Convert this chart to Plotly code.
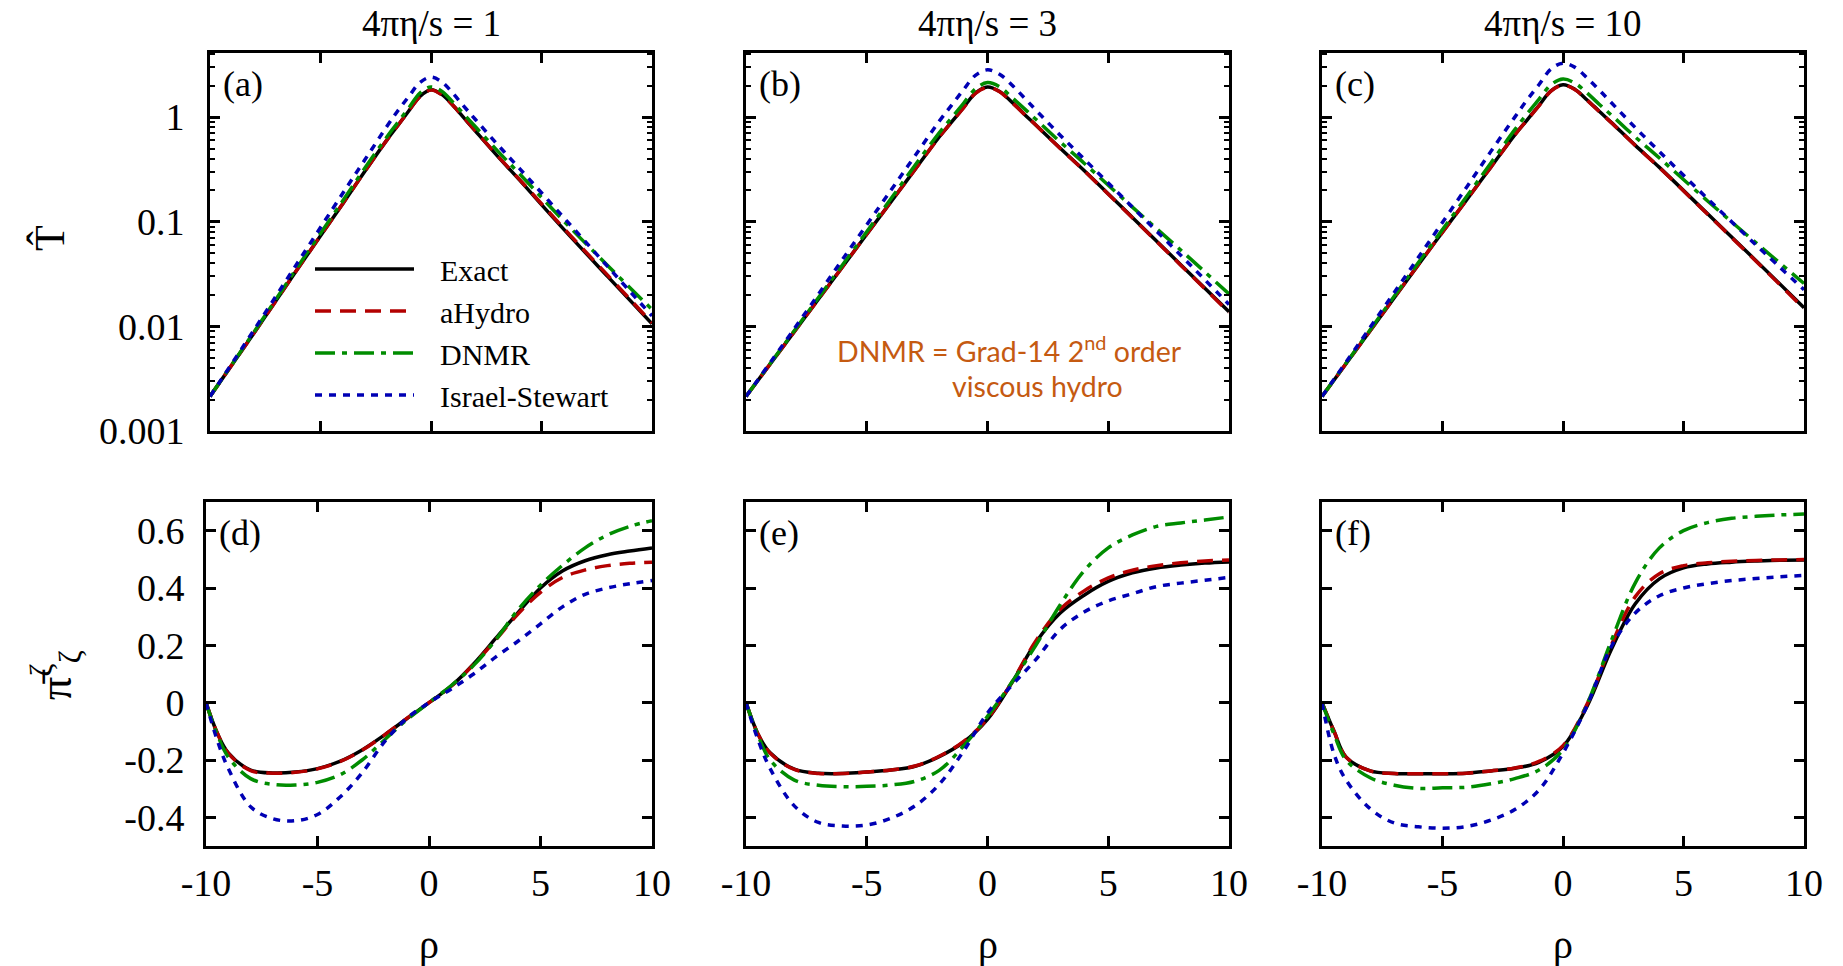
import plotly.graph_objects as go

# ---------------- data ----------------
rho_top = [-10, -8, -6, -4, -3, -2, -1.5, -1, -0.5, 0, 0.5, 1, 1.5, 2, 3, 4, 6, 8, 10]

# panel (a): 4*pi*eta/s = 1
T_exact_a = [0.00214, 0.0087, 0.0363, 0.148, 0.302, 0.603, 0.832, 1.15, 1.58, 1.83, 1.64, 1.29, 0.977, 0.741, 0.427, 0.251, 0.0851, 0.0299, 0.0106]
T_ahydro_a = [0.00214, 0.0087, 0.0363, 0.148, 0.302, 0.603, 0.832, 1.15, 1.57, 1.82, 1.63, 1.29, 0.98, 0.745, 0.43, 0.254, 0.087, 0.0307, 0.0108]
T_dnmr_a = [0.00214, 0.0089, 0.038, 0.158, 0.324, 0.646, 0.891, 1.23, 1.70, 1.94, 1.76, 1.38, 1.06, 0.813, 0.479, 0.288, 0.102, 0.038, 0.0145]
T_is_a = [0.00214, 0.0093, 0.0417, 0.186, 0.389, 0.813, 1.15, 1.58, 2.14, 2.41, 2.16, 1.68, 1.26, 0.955, 0.55, 0.324, 0.11, 0.0372, 0.0126]

# panel (b): 4*pi*eta/s = 3
T_exact_b = [0.00214, 0.0089, 0.0372, 0.155, 0.316, 0.646, 0.891, 1.23, 1.70, 1.94, 1.76, 1.40, 1.08, 0.841, 0.507, 0.309, 0.110, 0.0389, 0.0138]
T_ahydro_b = [0.00214, 0.0089, 0.0372, 0.155, 0.316, 0.646, 0.89, 1.22, 1.69, 1.92, 1.75, 1.39, 1.08, 0.84, 0.505, 0.308, 0.109, 0.0385, 0.0136]
T_dnmr_b = [0.00214, 0.0091, 0.0389, 0.166, 0.347, 0.708, 0.977, 1.35, 1.86, 2.14, 1.95, 1.55, 1.22, 0.955, 0.582, 0.363, 0.138, 0.0537, 0.0204]
T_is_b = [0.00214, 0.0095, 0.0437, 0.2, 0.427, 0.912, 1.29, 1.82, 2.51, 2.83, 2.57, 2.04, 1.55, 1.17, 0.676, 0.398, 0.138, 0.0479, 0.0162]

# panel (c): 4*pi*eta/s = 10
T_exact_c = [0.00214, 0.0091, 0.0389, 0.162, 0.331, 0.676, 0.933, 1.29, 1.78, 2.04, 1.84, 1.46, 1.14, 0.891, 0.537, 0.331, 0.119, 0.0427, 0.0151]
T_ahydro_c = [0.00214, 0.0091, 0.0389, 0.162, 0.331, 0.676, 0.93, 1.28, 1.77, 2.02, 1.83, 1.45, 1.13, 0.888, 0.535, 0.329, 0.118, 0.0421, 0.0148]
T_dnmr_c = [0.00214, 0.0093, 0.0407, 0.174, 0.363, 0.759, 1.07, 1.48, 2.04, 2.31, 2.11, 1.70, 1.33, 1.05, 0.646, 0.407, 0.158, 0.0631, 0.0257]
T_is_c = [0.00214, 0.0098, 0.0457, 0.214, 0.468, 1.0, 1.45, 2.04, 2.88, 3.28, 2.99, 2.37, 1.82, 1.38, 0.794, 0.468, 0.166, 0.0603, 0.0224]

rho_bot = [-10, -9.5, -9, -8, -7, -6, -5, -4, -3, -2, -1, 0, 1, 2, 3, 4, 5, 6, 7, 8, 9, 10]

# panel (d)
pi_exact_d = [0, -0.105, -0.175, -0.235, -0.245, -0.242, -0.23, -0.205, -0.165, -0.113, -0.056, 0, 0.058, 0.135, 0.225, 0.315, 0.40, 0.46, 0.495, 0.516, 0.529, 0.54]
pi_ahydro_d = [0, -0.105, -0.177, -0.237, -0.246, -0.243, -0.231, -0.206, -0.166, -0.113, -0.055, 0, 0.058, 0.133, 0.22, 0.31, 0.385, 0.437, 0.463, 0.478, 0.486, 0.49]
pi_dnmr_d = [0, -0.11, -0.19, -0.265, -0.285, -0.287, -0.278, -0.252, -0.2, -0.13, -0.06, 0, 0.06, 0.13, 0.22, 0.325, 0.41, 0.48, 0.54, 0.585, 0.615, 0.635]
pi_is_d = [0, -0.13, -0.23, -0.363, -0.405, -0.412, -0.39, -0.33, -0.245, -0.137, -0.055, 0.0, 0.048, 0.1, 0.16, 0.215, 0.275, 0.335, 0.378, 0.4, 0.415, 0.426]

# panel (e)
pi_exact_e = [0, -0.11, -0.175, -0.232, -0.246, -0.247, -0.242, -0.235, -0.222, -0.188, -0.138, -0.058, 0.068, 0.21, 0.312, 0.375, 0.423, 0.453, 0.47, 0.48, 0.487, 0.491]
pi_ahydro_e = [0, -0.11, -0.176, -0.233, -0.247, -0.247, -0.242, -0.235, -0.221, -0.187, -0.136, -0.056, 0.07, 0.215, 0.325, 0.39, 0.435, 0.462, 0.478, 0.488, 0.494, 0.498]
pi_dnmr_e = [0, -0.115, -0.2, -0.27, -0.288, -0.293, -0.292, -0.287, -0.274, -0.236, -0.152, -0.048, 0.07, 0.2, 0.34, 0.46, 0.54, 0.585, 0.615, 0.627, 0.637, 0.648]
pi_is_e = [0, -0.13, -0.23, -0.36, -0.418, -0.43, -0.427, -0.403, -0.36, -0.285, -0.17, -0.036, 0.06, 0.15, 0.255, 0.316, 0.355, 0.38, 0.405, 0.417, 0.427, 0.437]

# panel (f)
pi_exact_f = [0, -0.1, -0.19, -0.238, -0.247, -0.248, -0.248, -0.246, -0.238, -0.229, -0.208, -0.153, -0.012, 0.185, 0.345, 0.432, 0.47, 0.484, 0.49, 0.494, 0.497, 0.498]
pi_ahydro_f = [0, -0.1, -0.19, -0.238, -0.247, -0.248, -0.248, -0.246, -0.238, -0.228, -0.205, -0.15, -0.005, 0.2, 0.37, 0.45, 0.478, 0.488, 0.493, 0.496, 0.498, 0.499]
pi_dnmr_f = [0, -0.11, -0.2, -0.262, -0.288, -0.299, -0.297, -0.295, -0.283, -0.265, -0.235, -0.164, -0.005, 0.215, 0.418, 0.54, 0.6, 0.628, 0.643, 0.65, 0.655, 0.658]
pi_is_f = [0, -0.18, -0.27, -0.37, -0.42, -0.433, -0.438, -0.432, -0.41, -0.373, -0.305, -0.176, -0.01, 0.195, 0.313, 0.373, 0.4, 0.415, 0.426, 0.433, 0.439, 0.444]

model_names = ["Exact", "aHydro", "DNMR", "Israel-Stewart"]
column_titles = ["4πη/s = 1", "4πη/s = 3", "4πη/s = 10"]
panel_tags = ["(a)", "(b)", "(c)", "(d)", "(e)", "(f)"]
x_ticks = [-10, -5, 0, 5, 10]
x_ticktext = ["-10", "-5", "0", "5", "10"]
T_ticks = [0.001, 0.01, 0.1, 1]
T_ticktext = ["0.001", "0.01", "0.1", "1"]
pi_ticks = [-0.4, -0.2, 0, 0.2, 0.4, 0.6]
pi_ticktext = ["-0.4", "-0.2", "0", "0.2", "0.4", "0.6"]

top_sets = [
    [T_exact_a, T_ahydro_a, T_dnmr_a, T_is_a],
    [T_exact_b, T_ahydro_b, T_dnmr_b, T_is_b],
    [T_exact_c, T_ahydro_c, T_dnmr_c, T_is_c],
]
bot_sets = [
    [pi_exact_d, pi_ahydro_d, pi_dnmr_d, pi_is_d],
    [pi_exact_e, pi_ahydro_e, pi_dnmr_e, pi_is_e],
    [pi_exact_f, pi_ahydro_f, pi_dnmr_f, pi_is_f],
]

# ---------------- styles ----------------
SERIF = "Liberation Serif"
SANS = "Lato"
colors = ["#000000", "#b30000", "#008c00", "#0000b4"]
dashes = ["solid", "16px,9px", "20px,7px,5px,7px", "7px,7px"]
widths = [3.5, 3.5, 3.5, 3.5]

W, H = 1843, 966
def dom_x(a, b):
    return [a / W, b / W]
def dom_y(top, bottom):
    return [1 - bottom / H, 1 - top / H]

col_x_top = [(210, 652), (746, 1229), (1322, 1804)]
col_x_bot = [(206, 652), (746, 1229), (1322, 1804)]
row_top = (53, 431)
row_bot = (502, 846)

fig = go.Figure()

for c in range(3):
    xa = "x" if c == 0 else f"x{c+1}"
    ya = "y" if c == 0 else f"y{c+1}"
    for m in range(4):
        fig.add_trace(go.Scatter(
            x=rho_top, y=top_sets[c][m], xaxis=xa, yaxis=ya, mode="lines",
            line=dict(color=colors[m], dash=dashes[m], width=widths[m], shape="spline", smoothing=1.0),
            name="\u2002\u2009" + model_names[m], legendgroup=model_names[m], showlegend=(c == 0),
        ))
for c in range(3):
    xa = f"x{c+4}"
    ya = f"y{c+4}"
    for m in range(4):
        fig.add_trace(go.Scatter(
            x=rho_bot, y=bot_sets[c][m], xaxis=xa, yaxis=ya, mode="lines",
            line=dict(color=colors[m], dash=dashes[m], width=widths[m], shape="spline", smoothing=1.0),
            name=model_names[m], legendgroup=model_names[m], showlegend=False,
        ))

minor_log = [k * 10 ** e for e in range(-3, 1) for k in range(2, 10)] + [2, 3, 4]

axis_common = dict(
    showline=True, linewidth=3, linecolor="black", mirror="ticks",
    ticks="inside", ticklen=10, tickwidth=2.5, tickcolor="black",
    showgrid=False, zeroline=False, automargin=False,
    tickfont=dict(family=SERIF, size=38, color="black"),
)

layout = dict(
    width=W, height=H, autosize=False, margin=dict(l=0, r=0, t=0, b=0, pad=0),
    paper_bgcolor="white", plot_bgcolor="white",
    font=dict(family=SERIF, color="black"),
    showlegend=True,
    legend=dict(
        x=310 / W, y=1 - 243 / H, xanchor="left", yanchor="top",
        bgcolor="rgba(0,0,0,0)", borderwidth=0,
        font=dict(family=SERIF, size=30, color="black"),
        itemwidth=99, tracegroupgap=0,
    ),
)

for c in range(3):
    i = c + 1
    xk = "xaxis" if i == 1 else f"xaxis{i}"
    yk = "yaxis" if i == 1 else f"yaxis{i}"
    layout[xk] = dict(axis_common, domain=dom_x(*col_x_top[c]), anchor=("y" if i == 1 else f"y{i}"),
                      range=[-10, 10], tickvals=x_ticks, showticklabels=False)
    layout[yk] = dict(axis_common, domain=dom_y(*row_top), anchor=("x" if i == 1 else f"x{i}"),
                      type="log", range=[-3, 0.613], tickvals=T_ticks, ticktext=T_ticktext,
                      showticklabels=(c == 0), ticklabelstandoff=15,
                      minor=dict(tickvals=minor_log, ticks="inside", ticklen=5, tickwidth=2, tickcolor="black", showgrid=False))
    j = c + 4
    layout[f"xaxis{j}"] = dict(axis_common, domain=dom_x(*col_x_bot[c]), anchor=f"y{j}",
                               range=[-10, 10], tickvals=x_ticks, ticktext=x_ticktext,
                               showticklabels=True, ticklabelstandoff=1)
    layout[f"yaxis{j}"] = dict(axis_common, domain=dom_y(*row_bot), anchor=f"x{j}",
                               range=[-0.5, 0.7], tickvals=pi_ticks, ticktext=pi_ticktext,
                               showticklabels=(c == 0), ticklabelstandoff=11)

fig.update_layout(**layout)

ann = []
for c in range(3):
    cx = (col_x_top[c][0] + col_x_top[c][1]) / 2
    ann.append(dict(x=cx / W, y=1 - 23 / H, xref="paper", yref="paper", text=column_titles[c],
                    showarrow=False, xanchor="center", yanchor="middle",
                    font=dict(family=SERIF, size=37, color="black")))
    cxb = (col_x_bot[c][0] + col_x_bot[c][1]) / 2
    ann.append(dict(x=cxb / W, y=1 - 944 / H, xref="paper", yref="paper", text="ρ",
                    showarrow=False, xanchor="center", yanchor="middle",
                    font=dict(family=SERIF, size=40, color="black")))
    ann.append(dict(x=(col_x_top[c][0] + 11) / W, y=1 - 84 / H, xref="paper", yref="paper",
                    text=panel_tags[c], showarrow=False, xanchor="left", yanchor="middle",
                    font=dict(family=SERIF, size=36, color="black")))
    ann.append(dict(x=(col_x_bot[c][0] + 11) / W, y=1 - 533 / H, xref="paper", yref="paper",
                    text=panel_tags[c + 3], showarrow=False, xanchor="left", yanchor="middle",
                    font=dict(family=SERIF, size=36, color="black")))

ann.append(dict(x=50 / W, y=1 - 238 / H, xref="paper", yref="paper", text="T\u0302",
                showarrow=False, textangle=-90, xanchor="center", yanchor="middle",
                font=dict(family=SERIF, size=42, color="black")))
ann.append(dict(x=55 / W, y=1 - 675 / H, xref="paper", yref="paper",
                text="π\u0304<sup>ζ</sup><sub>ζ</sub>",
                showarrow=False, textangle=-90, xanchor="center", yanchor="middle",
                font=dict(family=SERIF, size=46, color="black")))

ORANGE = "#c55a11"
ann.append(dict(x=835 / W, y=1 - 349 / H, xref="paper", yref="paper",
                text="DNMR = Grad-14 2<sup>nd</sup> order",
                showarrow=False, xanchor="left", yanchor="middle",
                font=dict(family=SANS, size=28.5, color=ORANGE)))
ann.append(dict(x=950 / W, y=1 - 386 / H, xref="paper", yref="paper",
                text="viscous hydro",
                showarrow=False, xanchor="left", yanchor="middle",
                font=dict(family=SANS, size=28.5, color=ORANGE)))

fig.update_layout(annotations=ann)
fig.write_html("out.html")
